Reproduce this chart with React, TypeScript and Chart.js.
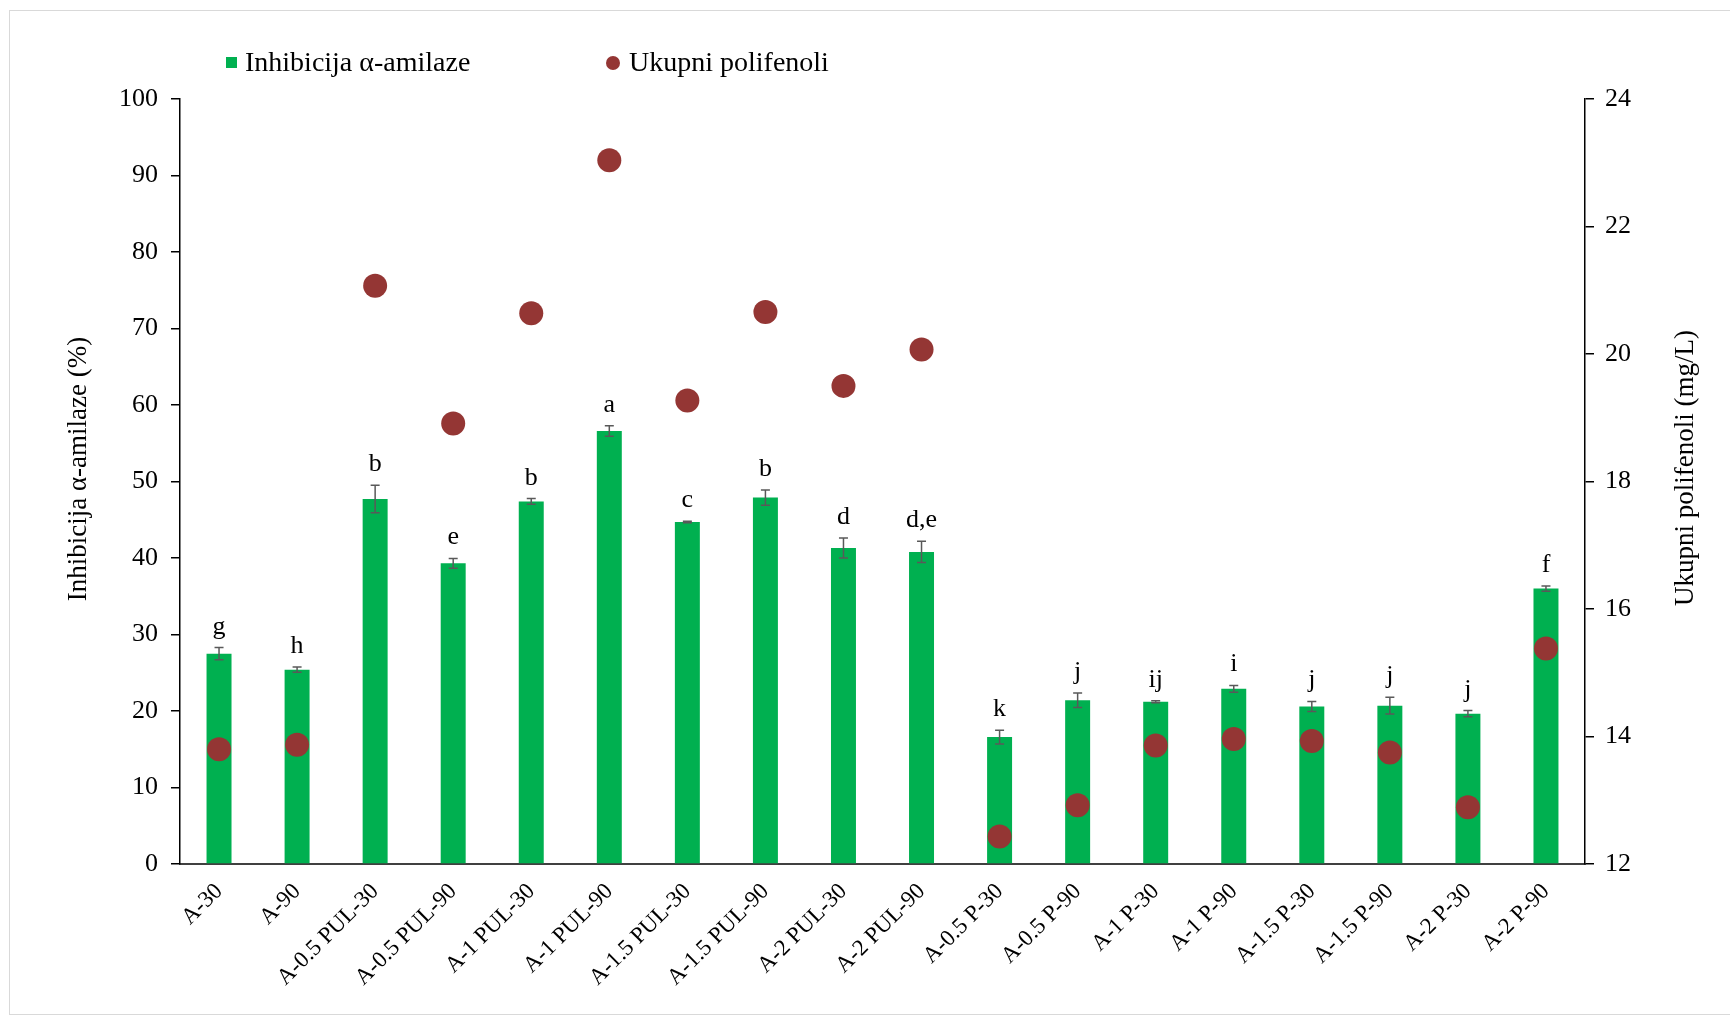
import React, { useEffect, useRef } from "react";
import { Chart, registerables } from "chart.js";

Chart.register(...registerables);

const categories = [
  "A-30", "A-90", "A-0.5 PUL-30", "A-0.5 PUL-90", "A-1 PUL-30", "A-1 PUL-90",
  "A-1.5 PUL-30", "A-1.5 PUL-90", "A-2 PUL-30", "A-2 PUL-90", "A-0.5 P-30",
  "A-0.5 P-90", "A-1 P-30", "A-1 P-90", "A-1.5 P-30", "A-1.5 P-90", "A-2 P-30", "A-2 P-90",
];
const inhibition = [27.5, 25.4, 47.7, 39.3, 47.4, 56.6, 44.7, 47.9, 41.3, 40.8, 16.6, 21.4, 21.2, 22.9, 20.6, 20.7, 19.65, 36.0];
const inhibitionErr = [0.8, 0.35, 1.8, 0.65, 0.37, 0.7, 0.1, 1.0, 1.3, 1.4, 0.9, 0.95, 0.13, 0.44, 0.65, 1.1, 0.4, 0.35];
const polyphenols = [13.8, 13.87, 21.07, 18.91, 20.64, 23.04, 19.27, 20.66, 19.5, 20.07, 12.43, 12.92, 13.86, 13.96, 13.93, 13.75, 12.89, 15.38];
const letters = ["g", "h", "b", "e", "b", "a", "c", "b", "d", "d,e", "k", "j", "ij", "i", "j", "j", "j", "f"];

const seriesNames = ["Inhibicija α-amilaze", "Ukupni polifenoli"];
const leftTitle = "Inhibicija α-amilaze (%)";
const rightTitle = "Ukupni polifenoli (mg/L)";

const GREEN = "#00B050";
const RED = "#943634";
const FONT = "'Liberation Serif', 'Times New Roman', serif";

const extrasPlugin = {
  id: "extras",
  afterDatasetsDraw(chart: any) {
    const ctx = chart.ctx;
    const yScale = chart.scales.y;
    const meta = chart.getDatasetMeta(0);
    ctx.save();
    meta.data.forEach((bar: any, i: number) => {
      const v = inhibition[i];
      const e = inhibitionErr[i];
      const x = bar.x;
      const yTop = yScale.getPixelForValue(v + e);
      const yBot = yScale.getPixelForValue(v - e);
      ctx.strokeStyle = "#595959";
      ctx.lineWidth = 1.5;
      ctx.beginPath();
      ctx.moveTo(x, yTop);
      ctx.lineTo(x, yBot);
      ctx.moveTo(x - 4.5, yTop);
      ctx.lineTo(x + 4.5, yTop);
      ctx.moveTo(x - 4.5, yBot);
      ctx.lineTo(x + 4.5, yBot);
      ctx.stroke();
      ctx.fillStyle = "#000";
      ctx.font = `26px ${FONT}`;
      ctx.textAlign = "center";
      ctx.textBaseline = "alphabetic";
      ctx.fillText(letters[i], x, yTop - 14);
    });
    ctx.restore();
  },
  afterDraw(chart: any) {
    const ctx = chart.ctx;
    ctx.save();
    // legend
    ctx.fillStyle = GREEN;
    ctx.fillRect(226, 57, 11, 11);
    ctx.fillStyle = RED;
    ctx.beginPath();
    ctx.arc(613, 63, 7, 0, Math.PI * 2);
    ctx.fill();
    ctx.fillStyle = "#000";
    ctx.font = `28px ${FONT}`;
    ctx.textAlign = "left";
    ctx.textBaseline = "middle";
    ctx.fillText(seriesNames[0], 245, 64);
    ctx.fillText(seriesNames[1], 629, 64);
    // axis titles
    ctx.font = `27px ${FONT}`;
    ctx.textAlign = "center";
    ctx.save();
    ctx.translate(79, 469);
    ctx.rotate(-Math.PI / 2);
    ctx.fillText(leftTitle, 0, 0);
    ctx.restore();
    ctx.save();
    ctx.translate(1686, 468);
    ctx.rotate(-Math.PI / 2);
    ctx.fillText(rightTitle, 0, 0);
    ctx.restore();
    ctx.restore();
  },
};

export default function App() {
  const ref = useRef<HTMLCanvasElement | null>(null);
  useEffect(() => {
    if (!ref.current) return;
    const chart = new Chart(ref.current, {
      data: {
        labels: categories,
        datasets: [
          {
            type: "bar",
            label: seriesNames[0],
            data: inhibition,
            backgroundColor: GREEN,
            borderWidth: 0,
            barPercentage: 0.32,
            categoryPercentage: 1,
            yAxisID: "y",
            order: 1,
          },
          {
            type: "line",
            label: seriesNames[1],
            data: polyphenols,
            showLine: false,
            pointRadius: 12,
            pointHoverRadius: 12,
            pointBackgroundColor: RED,
            pointBorderWidth: 0,
            backgroundColor: RED,
            yAxisID: "y2",
            order: 0,
          },
        ],
      } as any,
      options: {
        responsive: false,
        animation: false,
        layout: { padding: { top: 99, left: 0, right: 0, bottom: 0 } },
        plugins: { legend: { display: false }, tooltip: { enabled: false } },
        scales: {
          x: {
            offset: true,
            grid: { display: false, drawTicks: false },
            border: { display: true, color: "#404040", width: 2 },
            ticks: {
              minRotation: 45,
              maxRotation: 45,
              autoSkip: false,
              padding: 14,
              color: "#000",
              font: { family: FONT, size: 23 },
            },
            afterFit: (s: any) => { s.height = 153; },
          },
          y: {
            position: "left",
            min: 0,
            max: 100,
            ticks: { stepSize: 10, padding: 13, color: "#000", font: { family: FONT, size: 26 } },
            grid: { drawOnChartArea: false, drawTicks: true, tickLength: 9, color: "#000", lineWidth: 1.5 },
            border: { display: true, color: "#000", width: 1.5 },
            afterFit: (s: any) => { s.width = 180; },
          },
          y2: {
            position: "right",
            min: 12,
            max: 24,
            ticks: { stepSize: 2, padding: 11, color: "#000", font: { family: FONT, size: 26 } },
            grid: { drawOnChartArea: false, drawTicks: true, tickLength: 9, color: "#000", lineWidth: 1.5 },
            border: { display: true, color: "#000", width: 1.5 },
            afterFit: (s: any) => { s.width = 145; },
          },
        },
      } as any,
      plugins: [extrasPlugin],
    });
    return () => chart.destroy();
  }, []);

  return (
    <div>
      <div
        style={{
          position: "fixed",
          left: 9,
          top: 10,
          width: 1730,
          height: 1005,
          border: "1.5px solid #d9d9d9",
          boxSizing: "border-box",
        }}
      />
      <canvas
        ref={ref}
        width={1730}
        height={1017}
        style={{ position: "fixed", left: 0, top: 0, width: 1730, height: 1017 }}
      />
    </div>
  );
}
